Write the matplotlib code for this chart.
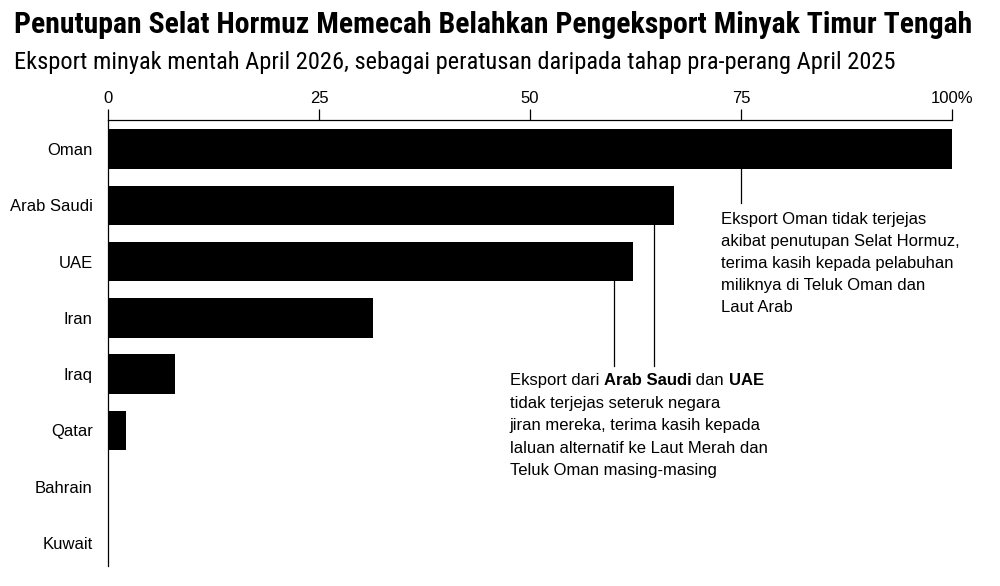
import matplotlib.pyplot as plt

plt.rcParams['font.family'] = ['Liberation Sans', 'DejaVu Sans']
cond = ['Roboto Condensed', 'Liberation Sans', 'DejaVu Sans']

# Data
countries = ['Oman', 'Arab Saudi', 'UAE', 'Iran', 'Iraq', 'Qatar', 'Bahrain', 'Kuwait']
pct_of_2025 = [100, 67.1, 62.2, 31.4, 7.9, 2.1, 0, 0]
x_ticks = [0, 25, 50, 75, 100]
x_tick_labels = ['0', '25', '50', '75', '100%']

title = 'Penutupan Selat Hormuz Memecah Belahkan Pengeksport Minyak Timur Tengah'
subtitle = 'Eksport minyak mentah April 2026, sebagai peratusan daripada tahap pra-perang April 2025'

oman_note = ('Eksport Oman tidak terjejas\nakibat penutupan Selat Hormuz,\n'
             'terima kasih kepada pelabuhan\nmiliknya di Teluk Oman dan\nLaut Arab')
gulf_note_rest = ('tidak terjejas seteruk negara\njiran mereka, terima kasih kepada\n'
                  'laluan alternatif ke Laut Merah dan\nTeluk Oman masing-masing')

fig = plt.figure(figsize=(10, 5.86), dpi=100)
ax = fig.add_axes([0.108, 0.034, 0.844, 0.761])

y = list(range(len(countries)))
ax.barh(y, pct_of_2025, height=0.7, color='black')

ax.set_xlim(0, 100)
ax.set_ylim(7.41, -0.515)
ax.set_yticks(y)
ax.set_yticklabels(countries, fontsize=12)
ax.tick_params(axis='y', length=0, pad=11)

ax.xaxis.tick_top()
ax.set_xticks(x_ticks)
ax.set_xticklabels(x_tick_labels, fontsize=12)
ax.tick_params(axis='x', length=8, width=0.9, pad=2, direction='out')

for s in ['right', 'bottom']:
    ax.spines[s].set_visible(False)
ax.spines['top'].set_linewidth(0.9)
ax.spines['left'].set_linewidth(0.9)

# leader lines
ax.plot([75, 75], [0.35, 0.95], color='black', lw=0.9)
ax.plot([64.7, 64.7], [1.35, 3.85], color='black', lw=0.9)
ax.plot([60.0, 60.0], [2.35, 3.85], color='black', lw=0.9)

# Oman annotation
ax.text(72.6, 1.11, oman_note, fontsize=12, va='top', ha='left', linespacing=1.6)

# Saudi / UAE annotation, first line with bold words
fs = 12
t = ax.text(47.6, 4.24, 'Eksport dari ', fontsize=fs, va='bottom', ha='left')
for piece, wt in [('Arab Saudi', 'bold'), (' dan ', 'normal'), ('UAE', 'bold')]:
    t = ax.annotate(piece, xy=(1, 0), xycoords=t, fontsize=fs, fontweight=wt,
                    va='bottom', ha='left')
ax.text(47.6, 4.39, gulf_note_rest, fontsize=fs, va='top', ha='left', linespacing=1.6)

fig.text(0.014, 0.957, title, fontsize=21.4, fontweight='bold', va='center', ha='left',
         family=cond)
fig.text(0.014, 0.894, subtitle, fontsize=17.6, va='center', ha='left', family=cond)

fig.savefig('out.png', dpi=100)
